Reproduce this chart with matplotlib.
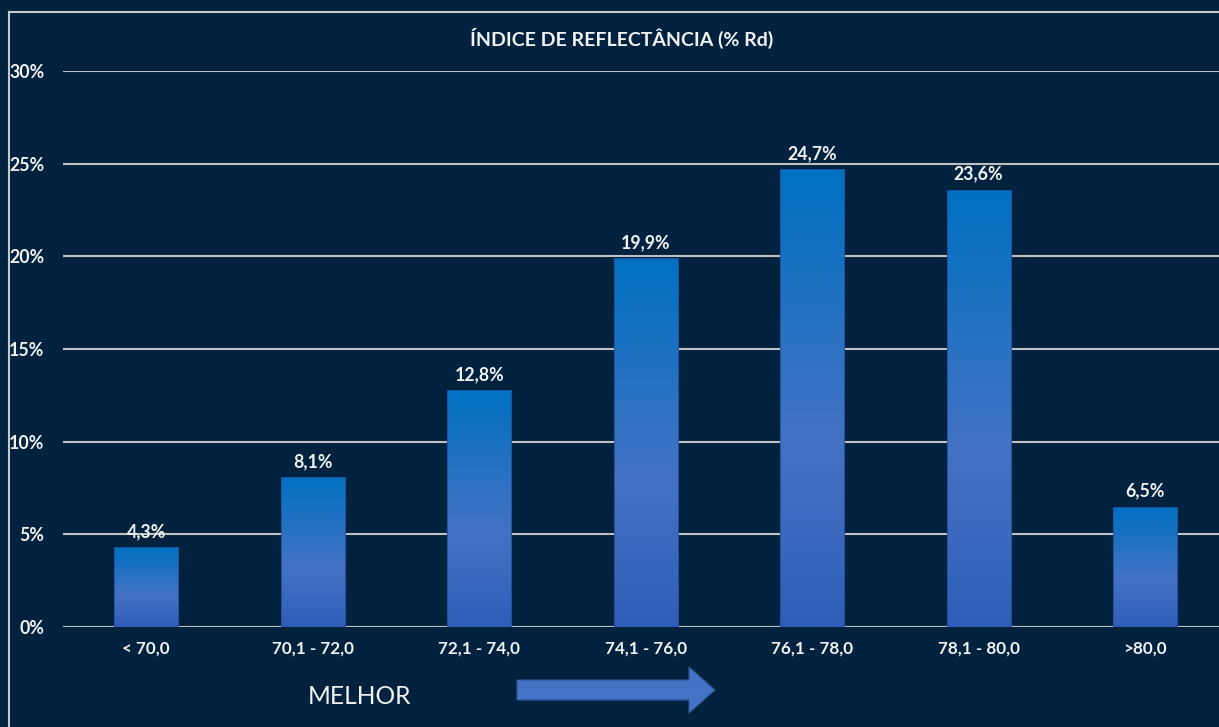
import matplotlib
matplotlib.use("Agg")
import matplotlib.pyplot as plt
import numpy as np
from matplotlib.colors import LinearSegmentedColormap
from matplotlib.lines import Line2D
from matplotlib.patches import FancyArrow

categories = ["< 70,0", "70,1 - 72,0", "72,1 - 74,0", "74,1 - 76,0", "76,1 - 78,0", "78,1 - 80,0", ">80,0"]
values = [4.3, 8.1, 12.8, 19.9, 24.7, 23.6, 6.5]
value_labels = ["4,3%", "8,1%", "12,8%", "19,9%", "24,7%", "23,6%", "6,5%"]
yticks = [0, 5, 10, 15, 20, 25, 30]
ytick_labels = ["0%", "5%", "10%", "15%", "20%", "25%", "30%"]
title = "ÍNDICE DE REFLECTÂNCIA (% Rd)"
note = "MELHOR"

BG = "#00223F"
TXT = "#F2F2F2"
GRID = "#C0C0C0"
plt.rcParams['font.family'] = ['Lato', 'DejaVu Sans']

W, H = 1219, 727
fig = plt.figure(figsize=(W / 100, H / 100), dpi=100)
fig.patch.set_facecolor(BG)
ax = fig.add_axes([63 / W, 100 / H, (W - 63) / W, 556 / H])
ax.set_facecolor(BG)

x = np.arange(len(categories))
bars = ax.bar(x, values, width=0.385, color="none", edgecolor="#1F4E9A", linewidth=0.6, zorder=3)

cmap = LinearSegmentedColormap.from_list("g", [(0.0, "#2E5EB8"), (0.4, "#4472C4"), (1.0, "#0070C0")])
grad = np.linspace(0, 1, 256).reshape(-1, 1)
for b in bars:
    x0, y0 = b.get_x(), b.get_y()
    w, h = b.get_width(), b.get_height()
    im = ax.imshow(grad, cmap=cmap, origin="lower", aspect="auto",
                   extent=[x0, x0 + w, y0, y0 + h], zorder=2)
    im.set_clip_path(b)

for xi, v, lab in zip(x, values, value_labels):
    ax.annotate(lab, (xi, v), xytext=(0, 5), textcoords="offset points",
                ha="center", va="bottom", color=TXT, fontsize=12.8, fontweight="bold", zorder=4)

ax.set_xlim(-0.5, 6.444)
ax.set_ylim(0, 30)
ax.set_yticks(yticks)
ax.set_yticklabels(ytick_labels)
ax.set_xticks(x)
ax.set_xticklabels(categories)
ax.tick_params(axis="both", length=0, colors=TXT)
ax.tick_params(axis="y", pad=13.5, labelsize=12.8)
ax.tick_params(axis="x", pad=10, labelsize=12.3)
for t in ax.get_xticklabels() + ax.get_yticklabels():
    t.set_fontweight("bold")
ax.grid(axis="y", color=GRID, linewidth=1.5, zorder=0)
ax.set_axisbelow(True)
for s in ax.spines.values():
    s.set_visible(False)

fig.text(622 / W, 1 - 38 / H, title, ha="center", va="center", color=TXT,
         fontsize=14, fontweight="bold")
fig.text(359 / W, 1 - 696 / H, note, ha="center", va="center", color=TXT, fontsize=17.7)

# arrow
arr = FancyArrow(517 / W, 1 - 690 / H, (715 - 517) / W, 0, width=20 / H,
                 head_width=46 / H, head_length=26 / W, length_includes_head=True,
                 transform=fig.transFigure, facecolor="#4472C4", edgecolor="#2F5597", linewidth=0.8)
fig.patches.append(arr)

# frame
fig.add_artist(Line2D([8.5 / W, 8.5 / W], [0, 1 - 11.5 / H], transform=fig.transFigure, color="#C8C8C8", linewidth=1.5))
fig.add_artist(Line2D([8.5 / W, 1], [1 - 11.5 / H, 1 - 11.5 / H], transform=fig.transFigure, color="#C8C8C8", linewidth=1.5))

fig.savefig("out.png", dpi=100, facecolor=BG)
